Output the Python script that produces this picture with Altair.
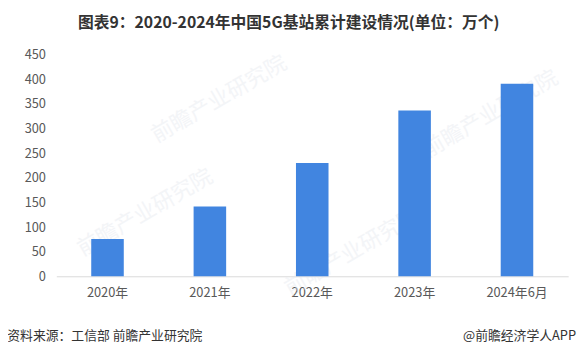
import altair as alt
import pandas as pd

categories = ["2020年", "2021年", "2022年", "2023年", "2024年6月"]
values = [76, 142, 230, 337, 391]
y_ticks = [0, 50, 100, 150, 200, 250, 300, 350, 400, 450]

title_text = "图表9：2020-2024年中国5G基站累计建设情况(单位：万个)"
source_text = "资料来源：工信部 前瞻产业研究院"
brand_text = "@前瞻经济学人APP"
watermark_text = "前瞻产业研究院"

df = pd.DataFrame({"cat": categories, "val": values})
FONT = "Noto Sans CJK SC"
W, H = 519, 224.6

bars = alt.Chart(df).mark_bar(color="#4185E0", size=33).encode(
    x=alt.X("cat:N", sort=categories, title=None,
            scale=alt.Scale(paddingInner=0, paddingOuter=0),
            axis=alt.Axis(labelAngle=0, ticks=False, domainColor="#d9d9d9",
                          domainWidth=1, labelColor="#595959", labelFontSize=13,
                          labelFont=FONT, labelPadding=10, grid=False)),
    y=alt.Y("val:Q", title=None,
            scale=alt.Scale(domain=[0, 450], nice=False),
            axis=alt.Axis(values=y_ticks, ticks=False, domain=False, grid=False,
                          labelColor="#595959", labelFontSize=13, labelFont=FONT,
                          labelPadding=11)),
)

one = alt.Data(values=[{"a": 1}])

def txt(text, x, y, size, color, align="left", weight="normal", angle=0, opacity=1.0):
    return alt.Chart(one).mark_text(
        text=text, align=align, baseline="middle", font=FONT, fontSize=size,
        fontWeight=weight, color=color, angle=angle, opacity=opacity
    ).encode(x=alt.value(x), y=alt.value(y))

wm_color = "#e6e9ef"
watermarks = [
    txt(watermark_text, 165, 45, 22, wm_color, align="center", angle=330, opacity=0.45),
    txt(watermark_text, 90, 160, 22, wm_color, align="center", angle=330, opacity=0.45),
    txt(watermark_text, 300, 200, 22, wm_color, align="center", angle=330, opacity=0.45),
    txt(watermark_text, 440, 60, 22, wm_color, align="center", angle=330, opacity=0.45),
]

title = txt(title_text, 292.7 - 57, 20.5 - 53, 16, "#333333", align="center", weight="bold")
source = txt(source_text, 7.3 - 57, 338 - 53, 13, "#333333", align="left")
brand = txt(brand_text, 584 - 57, 338 - 53, 13, "#333333", align="right")

chart = alt.layer(*watermarks, bars, title, source, brand).properties(
    width=W, height=H,
    autosize=alt.AutoSizeParams(type="none"),
    padding={"left": 49, "top": 45, "right": 12, "bottom": 80},
).configure_view(stroke=None)

chart.save("out.html", embed_options={"renderer": "svg", "actions": False})
